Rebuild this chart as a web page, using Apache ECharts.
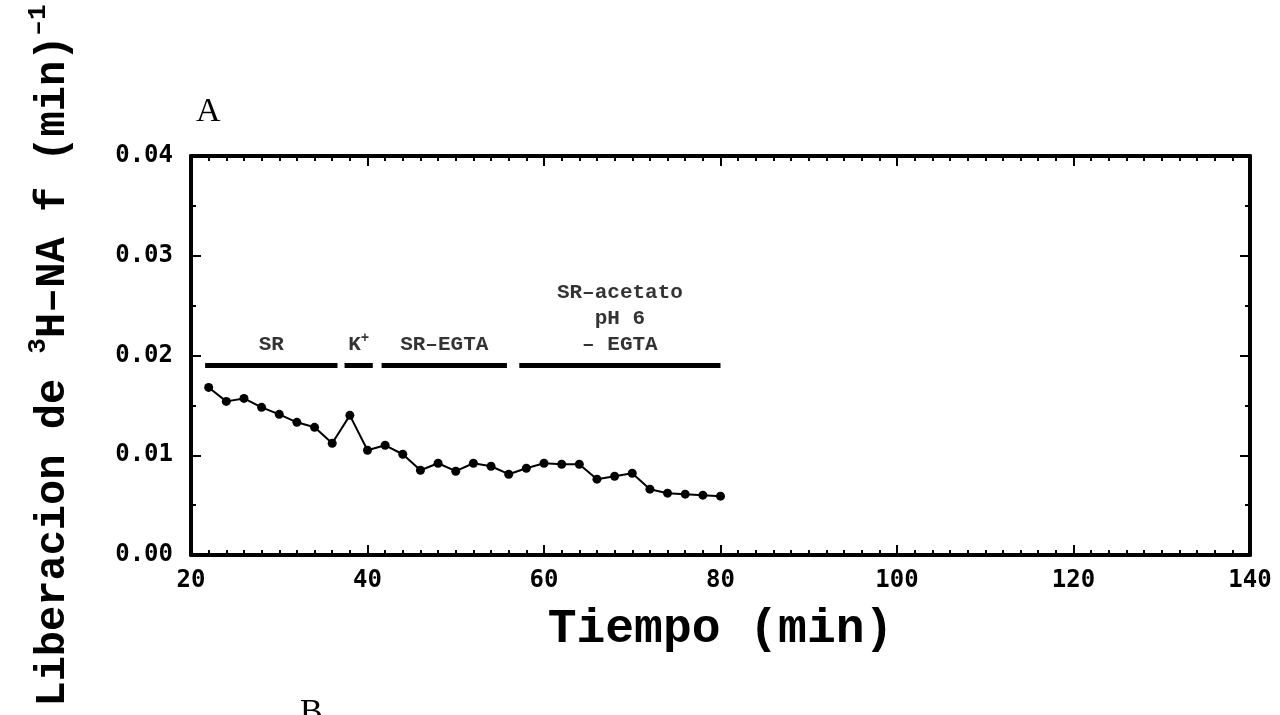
<!DOCTYPE html>
<html>
<head>
<meta charset="utf-8">
<script src="https://cdn.jsdelivr.net/npm/echarts@6/dist/echarts.min.js"></script>
<style>
html, body { margin: 0; padding: 0; background: #fff; }
#chart { width: 1280px; height: 715px; }
</style>
</head>
<body>
<div id="chart"></div>
<script>
// data (panel A)
var tiempo = [22, 24, 26, 28, 30, 32, 34, 36, 38, 40, 42, 44, 46, 48, 50,
              52, 54, 56, 58, 60, 62, 64, 66, 68, 70, 72, 74, 76, 78, 80];
var liberacion = [0.0168, 0.0154, 0.0157, 0.0148, 0.0141, 0.0133, 0.0128, 0.0112, 0.0140, 0.0105,
                  0.0110, 0.0101, 0.0085, 0.0092, 0.0084, 0.0092, 0.0089, 0.0081, 0.0087, 0.0092,
                  0.0091, 0.0091, 0.0076, 0.0079, 0.0082, 0.0066, 0.0062, 0.0061, 0.0060, 0.0059];

// solution bars above the trace
var barStart = [21.6, 37.4, 41.6, 57.2];
var barEnd = [36.6, 40.6, 55.8, 80];
var barLevel = 0.019;
var barNames = ['SR', 'K{sup|+}', 'SR–EGTA', 'SR–acetato\npH 6\n– EGTA'];

var xTicks = { min: 20, max: 140, interval: 20 };
var yTicks = { min: 0, max: 0.04, interval: 0.01 };

var myChart = echarts.init(document.getElementById('chart'));

var titleFont = 'Liberation Mono';

function tickFont() {
    return { fontFamily: 'DejaVu Sans Mono', fontWeight: 'bold', fontSize: 24, color: '#000' };
}

function axisBase(pos, t, minorSplit, showLabel) {
    return {
        type: 'value',
        position: pos,
        min: t.min,
        max: t.max,
        interval: t.interval,
        axisLine: { show: true, onZero: false, lineStyle: { color: '#000', width: 4 } },
        axisTick: { show: true, inside: true, length: 10, lineStyle: { color: '#000', width: 2 } },
        minorTick: { show: true, splitNumber: minorSplit, length: 5, lineStyle: { color: '#000', width: 2 } },
        splitLine: { show: false },
        axisLabel: showLabel ? tickFont() : { show: false }
    };
}

var xBottom = axisBase('bottom', xTicks, 10, true);
xBottom.axisLabel.margin = 14;
xBottom.name = 'Tiempo (min)';
xBottom.nameLocation = 'middle';
xBottom.nameGap = 51;
xBottom.nameTextStyle = { fontFamily: titleFont, fontWeight: 'bold', fontSize: 48, color: '#000' };

var yLeft = axisBase('left', yTicks, 2, true);
yLeft.axisLabel.margin = 18;
yLeft.axisLabel.formatter = function (v) { return v.toFixed(2); };
yLeft.name = '{t|Liberacion de }{s|3}{t|H–NA f (min)}{s|–1}';
yLeft.nameLocation = 'middle';
yLeft.nameRotate = 90;
yLeft.nameGap = 110;
yLeft.nameTextStyle = {
    rich: {
        t: { fontFamily: titleFont, fontWeight: 'bold', fontSize: 42, color: '#000', lineHeight: 56 },
        s: { fontFamily: titleFont, fontWeight: 'bold', fontSize: 26, color: '#000', verticalAlign: 'top', lineHeight: 56 }
    }
};

var series = [{
    type: 'line',
    data: tiempo.map(function (t, i) { return [t, liberacion[i]]; }),
    symbol: 'circle',
    symbolSize: 9,
    itemStyle: { color: '#000' },
    lineStyle: { color: '#000', width: 2 },
    z: 3
}];

barStart.forEach(function (s, i) {
    series.push({
        type: 'line',
        data: [[s, barLevel], [barEnd[i], barLevel]],
        symbol: 'none',
        lineStyle: { color: '#000', width: 5 },
        silent: true
    });
});

series.push({
    type: 'scatter',
    symbolSize: 0,
    silent: true,
    data: barStart.map(function (s, i) { return [(s + barEnd[i]) / 2, barLevel, barNames[i]]; }),
    label: {
        show: true,
        position: 'top',
        distance: 8,
        formatter: function (p) { return p.data[2]; },
        fontFamily: titleFont,
        fontWeight: 'bold',
        fontSize: 21,
        lineHeight: 26,
        color: '#000',
        align: 'center',
        rich: {
            sup: { fontFamily: titleFont, fontWeight: 'bold', fontSize: 14, color: '#000', verticalAlign: 'top', lineHeight: 26 }
        }
    }
});

option = {
    animation: false,
    backgroundColor: '#fff',
    grid: { left: 191, right: 30, top: 156, bottom: 160, containLabel: false, outerBoundsMode: 'none' },
    xAxis: [xBottom, axisBase('top', xTicks, 10, false)],
    yAxis: [yLeft, axisBase('right', yTicks, 2, false)],
    graphic: [
        { type: 'text', left: 196, top: 95, style: { text: 'A', font: '34px "Liberation Serif"', fill: '#000' } },
        { type: 'text', left: 300, top: 696, style: { text: 'B', font: '34px "Liberation Serif"', fill: '#000' } }
    ],
    series: series
};
myChart.setOption(option);
</script>
</body>
</html>
